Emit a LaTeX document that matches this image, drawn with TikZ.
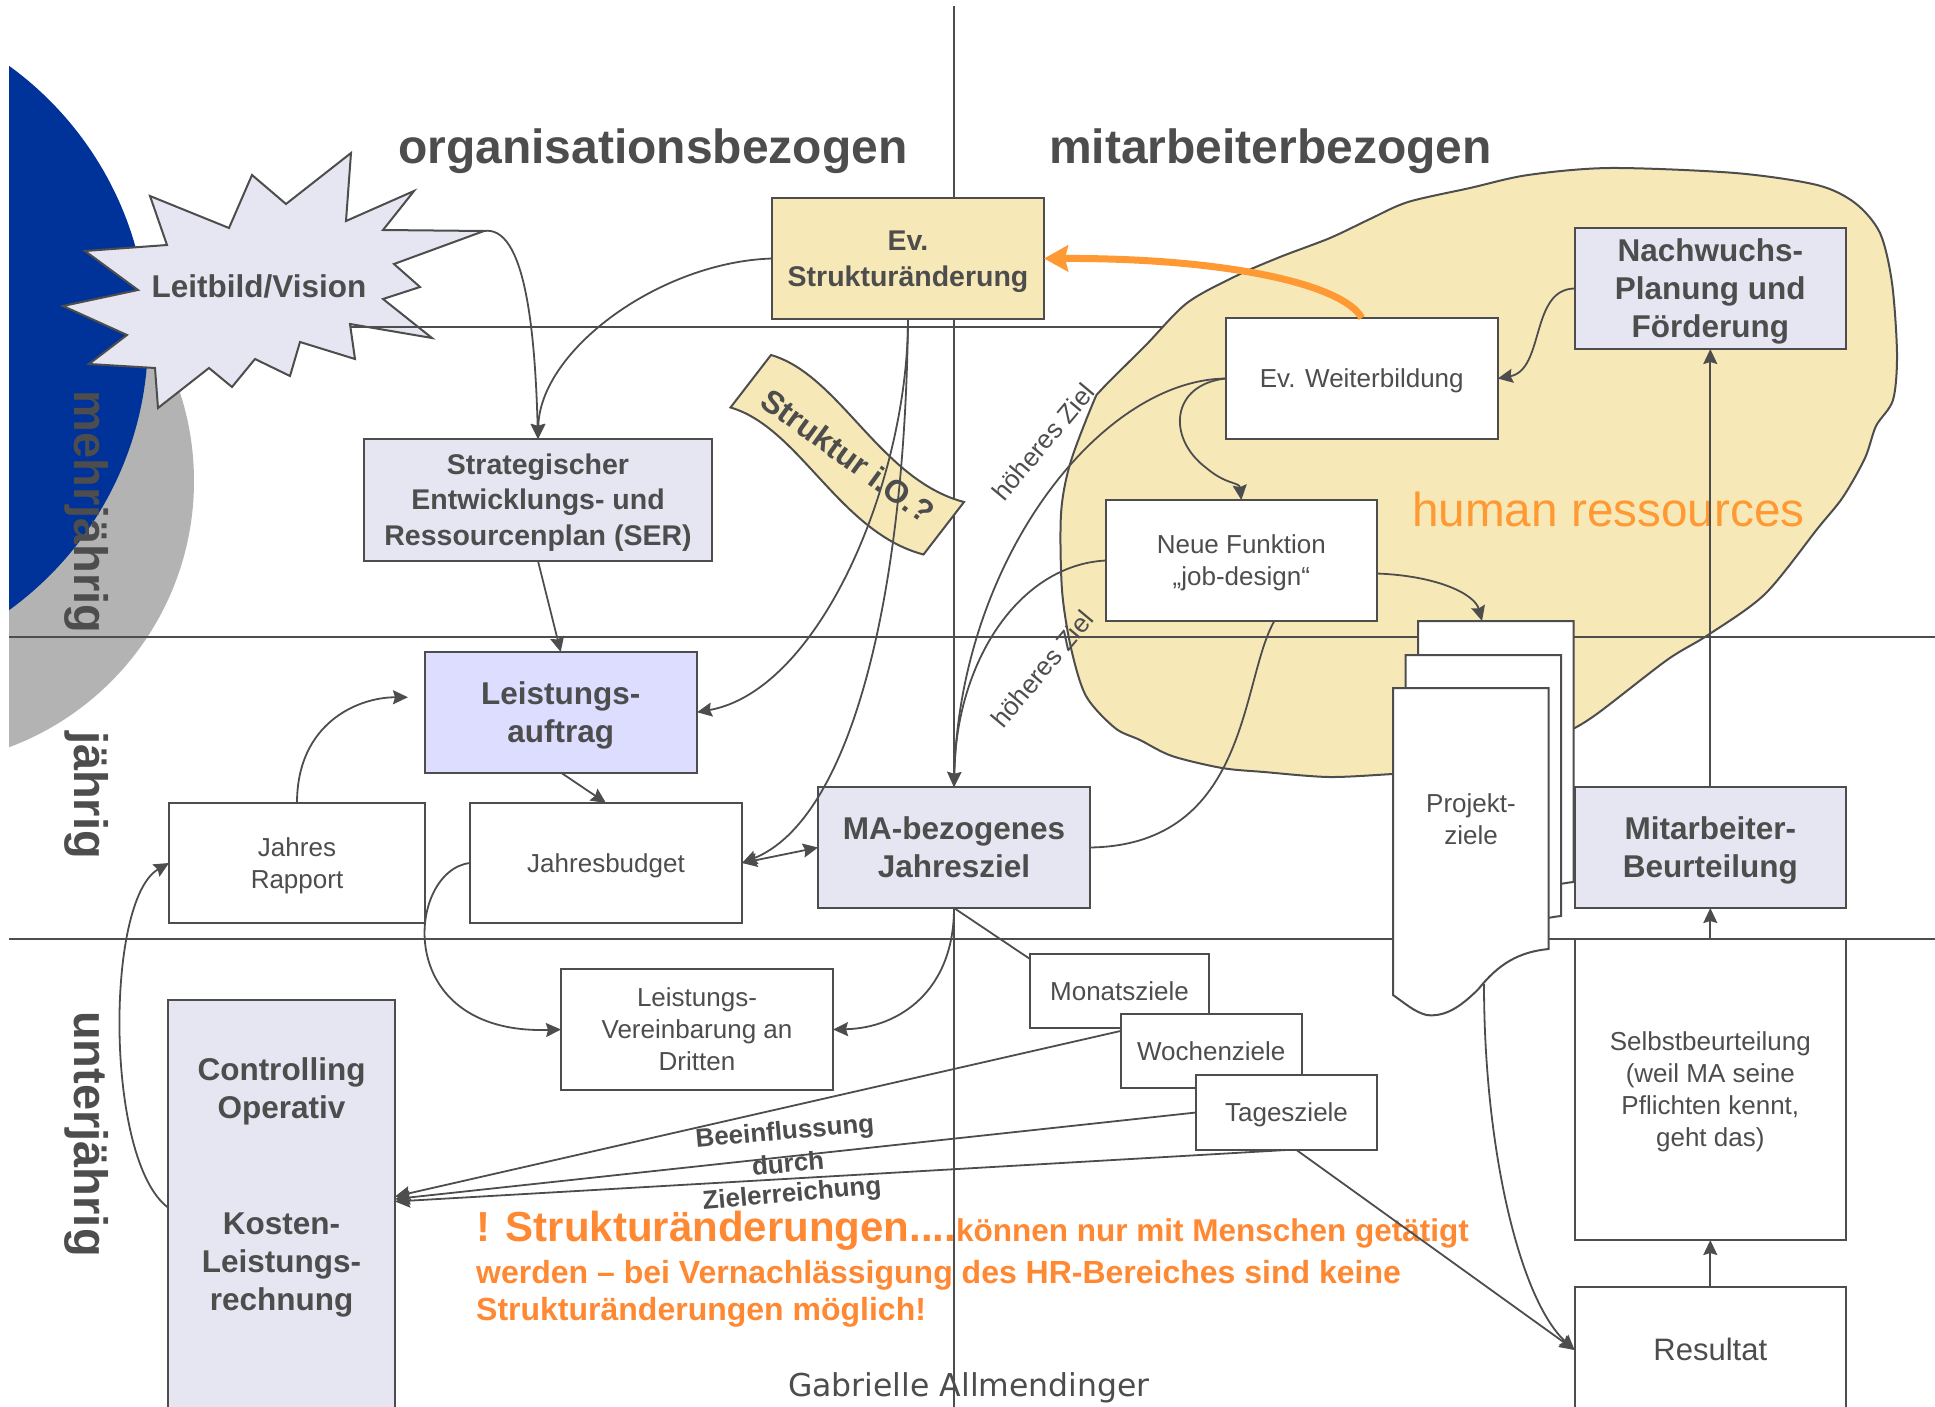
\documentclass[tikz,border=0pt]{standalone}
\usepackage{fontspec}
\setmainfont{Liberation Sans}
\newfontfamily\djv{DejaVu Sans}
\usetikzlibrary{arrows.meta}
\newcommand{\myfs}[2]{\fontsize{#1}{#2}\selectfont}
\newcommand{\mytop}{\rule{0pt}{0.905em}}
\newcommand{\mybot}{\rule[-0.212em]{0pt}{0pt}}
\definecolor{lc}{HTML}{4D4D4D}
\definecolor{lav}{HTML}{E6E6F2}
\definecolor{peri}{HTML}{DDDDFF}
\definecolor{ylw}{HTML}{F7E9B7}
\definecolor{dblue}{HTML}{003399}
\definecolor{cgray}{HTML}{B3B3B3}
\definecolor{orng}{HTML}{FF9933}
\definecolor{orng2}{HTML}{FF8833}
\newcommand{\mypage}{(1393,688) -- (1548.5,688) -- (1548.5,949) .. controls (1518.5,952) and (1498.5,964) .. (1478.5,989) .. controls (1458.5,1009) and (1443.5,1017) .. (1426.5,1015) .. controls (1414.5,1012) and (1404.5,1003) .. (1393,995) -- cycle}
\tikzset{
  bx/.style={draw=lc, line width=2pt, fill=white, text=lc, inner sep=0pt, outer sep=0pt, align=center,
    minimum width=272pt, minimum height=121pt, font=\myfs{26}{32}},
  bbx/.style={bx, font=\bfseries\myfs{31.5}{38}},
  arr/.style={draw=lc, line width=1.8pt, -{Stealth[length=15pt,width=14pt,inset=2pt]}},
  arrtwo/.style={draw=lc, line width=1.8pt, {Stealth[length=15pt,width=14pt,inset=2pt]}-{Stealth[length=15pt,width=14pt,inset=2pt]}},
  con/.style={draw=lc, line width=1.8pt},
  ln/.style={draw=lc, line width=2pt},
  pg/.style={draw=lc, line width=2pt, fill=white},
  lbl/.style={text=lc, inner sep=0pt},
}
\begin{document}
\begin{tikzpicture}[x=1pt,y=-1pt]
\path[use as bounding box] (0,0) rectangle (1935,1407);
\begin{scope}
\clip (0,0) rectangle (1935,1407);
% background circles
\begin{scope}
\clip (9,0) rectangle (400,900);
\fill[cgray] (-90,481) circle[radius=284];
\fill[dblue] (-188,338) circle[radius=336];
\end{scope}
% side labels
\node[lbl, rotate=-90, anchor=base, font=\bfseries\myfs{47}{50}] (mj) at (74,512) {mehrjährig};
\node[lbl, rotate=-90, anchor=base, font=\bfseries\myfs{47}{50}] (jj) at (74,795) {jährig};
\node[lbl, rotate=-90, anchor=base, font=\bfseries\myfs{47}{50}] (uj) at (74,1134) {unterjährig};
% headings
\node[lbl, anchor=base west, font=\bfseries\myfs{48}{50}] (hA) at (398,164) {organisationsbezogen};
\node[lbl, anchor=base west, font=\bfseries\myfs{48}{50}] (hB) at (1049,164) {mitarbeiterbezogen};
% starburst
\draw[lc, line width=2pt, fill=lav] (150,196) -- (229,228) -- (252,175) -- (286,204) -- (351,153) -- (346,221) -- (414,191) -- (383,230) -- (484,231) -- (394,264) -- (420,287) -- (383,299) -- (432,338) -- (350,324) -- (355,359) -- (300,342) -- (290,376) -- (255,359) -- (232,387) -- (209,368) -- (158,408) -- (155,368) -- (89,364) -- (127,335) -- (63,306) -- (138,290) -- (85,251) -- (167,245) -- cycle;
\node[lbl, anchor=base, font=\bfseries\myfs{31.5}{38}] (leitbild) at (259,297) {Leitbild/Vision};
\coordinate (lbtip) at (484,231);
% first horizontal line
\draw[ln] (350,327) -- (1300,327);
% blob
\draw[lc, line width=2pt, fill=ylw] plot[smooth cycle] coordinates {(1370,219) (1408,202) (1470,188) (1528,175) (1610,168) (1735,173) (1817,185) (1855,203) (1880,233) (1892,283) (1897,354) (1893,400) (1876,426) (1865,458) (1843,497) (1818,528) (1765,594) (1708,635) (1667,660) (1594,716) (1560,735) (1500,760) (1430,772) (1393,774) (1329,777) (1264,772) (1222,768) (1172,756) (1140,740) (1115,728) (1086,696) (1071,648) (1062,590) (1061,514) (1070,464) (1093,403) (1102,389) (1146,345) (1187,303) (1236,276) (1280,257) (1330,238)};
\node[anchor=base west, inner sep=0pt, text=orng, font=\myfs{47.7}{50}] (hr) at (1412,526) {human ressources};
% texts
\node[anchor=base west, inner sep=0pt, text=orng2, font=\bfseries] (otA) at (476,1241.7) {{\myfs{42}{45}! Strukturänderungen....}{\myfs{31.5}{38}können nur mit Menschen getätigt}};
\node[anchor=base west, inner sep=0pt, text=orng2, font=\bfseries\myfs{32}{38}] (otB) at (476,1283) {werden – bei Vernachlässigung des HR-Bereiches sind keine};
\node[anchor=base west, inner sep=0pt, text=orng2, font=\bfseries\myfs{32}{38}] (otC) at (476,1320.7) {Strukturänderungen möglich!};
\node[lbl, anchor=base, font=\djv\myfs{31.5}{36}] (auth) at (969,1396.7) {Gabrielle Allmendinger};
\node[lbl, rotate=50, font=\myfs{26}{30}] (hzA) at (1043,442) {höheres Ziel};
\node[lbl, rotate=50, font=\myfs{26}{30}] (hzB) at (1042,669) {höheres Ziel};
\node[lbl, rotate=5, font=\bfseries\myfs{26}{30}] (bA) at (785,1133) {Beeinflussung};
\node[lbl, rotate=5, font=\bfseries\myfs{26}{30}] (bB) at (788,1163) {durch};
\node[lbl, rotate=5, font=\bfseries\myfs{26}{30}] (bC) at (792,1195) {Zielerreichung};
% grid lines
\draw[ln] (9,637) -- (1935,637);
\draw[ln] (9,939) -- (1935,939);
\draw[ln] (954,6) -- (954,1407);
% banner
\draw[lc, line width=2pt, fill=ylw] (771,355) .. controls (840,375) and (880,480) .. (964,502) -- (923.5,554.5) .. controls (839.5,532.5) and (799.5,427.5) .. (730.5,407.5) -- cycle;
\node[lbl, rotate=-36, font=\bfseries\myfs{32}{36}] (struk) at (848,456) {Struktur i.O.?};
% boxes
\node[bx, fill=ylw, font=\bfseries\myfs{28.5}{36}] (evstr) at (908,258.5) {\mytop Ev.\\Strukturänderung\mybot};
\node[bx, fill=lav, minimum width=348pt, minimum height=122pt, font=\bfseries\myfs{28.5}{35.5}] (ser) at (538,500) {\mytop Strategischer\\Entwicklungs- und\\Ressourcenplan (SER)\mybot};
\node[bbx, fill=peri, minimum width=272.5pt, minimum height=120.5pt] (leist) at (560.75,712.25) {\mytop Leistungs-\\auftrag\mybot};
\node[bx, minimum width=256pt, minimum height=120pt] (rapport) at (297,863) {\mytop Jahres\\Rapport\mybot};
\node[bx, minimum width=272pt, minimum height=120pt] (budget) at (606,863) {\mytop Jahresbudget\mybot};
\node[bbx, fill=lav] (maz) at (954,847.5) {\mytop MA-bezogenes\\Jahresziel\mybot};
\node[bx] (verein) at (697,1029.5) {\mytop Leistungs-\\Vereinbarung an\\Dritten\mybot};
\node[bx, minimum width=179pt, minimum height=74pt] (mon) at (1119.5,991) {\mytop Monatsziele\mybot};
\node[bx, minimum width=181.5pt, minimum height=74pt] (woch) at (1211.25,1051) {\mytop Wochenziele\mybot};
\node[bx, minimum width=181pt, minimum height=75pt] (tag) at (1286.5,1112.5) {\mytop Tagesziele\mybot};
\node[bx, fill=lav, minimum width=227pt, minimum height=415pt] (ctrl) at (281.5,1207.5) {};
\node[lbl, align=center, font=\bfseries\myfs{31.5}{38}] (ctrlA) at (281.5,1089) {\mytop Controlling\\Operativ\mybot};
\node[lbl, align=center, font=\bfseries\myfs{31.5}{38}] (ctrlB) at (281.5,1262) {\mytop Kosten-\\Leistungs-\\rechnung\mybot};
\node[bx] (weiter) at (1361.75,378.5) {\mytop Ev. Weiterbildung\mybot};
\node[bx, minimum width=271.3pt] (neue) at (1241.35,560.5) {\mytop Neue Funktion\\„job-design“\mybot};
\node[bbx, fill=lav, minimum width=271.4pt] (nach) at (1710.3,288.5) {\mytop Nachwuchs-\\Planung und\\Förderung\mybot};
\node[bbx, fill=lav, minimum width=271.4pt] (beurt) at (1710.3,847.5) {\mytop Mitarbeiter-\\Beurteilung\mybot};
\node[bx, minimum width=271.4pt, minimum height=301pt] (selbst) at (1710.3,1089.5) {\mytop Selbstbeurteilung\\(weil MA seine\\Pflichten kennt,\\geht das)\mybot};
\node[bx, minimum width=271.4pt, minimum height=126pt, font=\myfs{31}{38}] (result) at (1710.3,1350) {\mytop Resultat\mybot};
% project pages
\begin{scope}[shift={(25,-67)}]
\draw[pg] \mypage;
\coordinate (pgtop) at (1457,688);
\end{scope}
\begin{scope}[shift={(12.5,-33)}]
\draw[pg] \mypage;
\end{scope}
\draw[pg] \mypage;
\node[lbl, align=center, font=\myfs{26}{32}] (proj) at (1471,819) {\mytop Projekt-\\ziele\mybot};
\coordinate (pgwave) at (1484,984);
% connectors
\draw[arr] (lbtip) .. controls +(41,-6) and +(-3,-109) .. (ser.north);
\draw[arr] (evstr.west) .. controls +(-112,3.5) and +(2,-89) .. (ser.north);
\draw[arr] (ser.south) -- (leist.north);
\draw[arr] (evstr.south) .. controls +(0,161) and +(123,-22) .. (leist.east);
\draw[arr] (evstr.south) .. controls +(-3,281) and +(108,-43) .. (budget.east);
\draw[arr] (leist.south) -- (budget.north);
\draw[arr] (rapport.north) .. controls +(0,-80) and +(-50,0) .. ([xshift=-16.5pt,yshift=15pt]leist.west);
\draw[arr] (ctrl.west) .. controls +(-63,-47) and +(-64,37) .. (rapport.west);
\draw[arr] (budget.west) .. controls +(-63,7) and +(-171,5.5) .. (verein.west);
\draw[arr] (maz.south) .. controls +(0,82) and +(67,-1.5) .. (verein.east);
\draw[con] (maz.south) -- ([yshift=-5pt]mon.north west);
\draw[arrtwo] (budget.east) -- (maz.west);
\draw[arr] ([yshift=20pt]woch.west) -- ([yshift=11pt]ctrl.east);
\draw[arr] (tag.west) -- ([yshift=8.5pt]ctrl.east);
\draw[arr] (tag.south) -- ([yshift=6pt]ctrl.east);
\draw[arr] ([xshift=10pt]tag.south) -- (result.west);
\draw[arr] (pgwave) .. controls +(0,166) and +(-54.6,-50) .. (result.west);
\draw[con] ([xshift=33pt]neue.south) .. controls +(-34,59) and +(160,-2.5) .. (maz.east);
\draw[arr] (weiter.west) .. controls +(-125.5,1.5) and +(6,-227) .. (maz.north);
\draw[arr] (neue.west) .. controls +(-85.7,4.5) and +(2,-127) .. (maz.north);
\draw[arr] ([yshift=-13pt]neue.east) .. controls +(63,2.5) and +(-7,-26) .. (pgtop);
\draw[arr] (weiter.west) .. controls +(-55,6) and +(-40,-30) .. ([xshift=-35pt,yshift=32pt]neue.north) .. controls +(20,17) and +(-2,-18) .. (neue.north);
\draw[arr] (nach.west) .. controls +(-44.6,0.5) and +(47,-8.5) .. (weiter.east);
\draw[arr] (beurt.north) -- (nach.south);
\draw[arr] (selbst.north) -- (beurt.south);
\draw[arr] (result.north) -- (selbst.south);
\draw[orng, line width=7pt, -{Stealth[length=24pt,width=26pt,inset=3pt]}] (weiter.north) .. controls +(-18,-33) and +(186,-0.5) .. (evstr.east);
\end{scope}
\end{tikzpicture}
\end{document}
